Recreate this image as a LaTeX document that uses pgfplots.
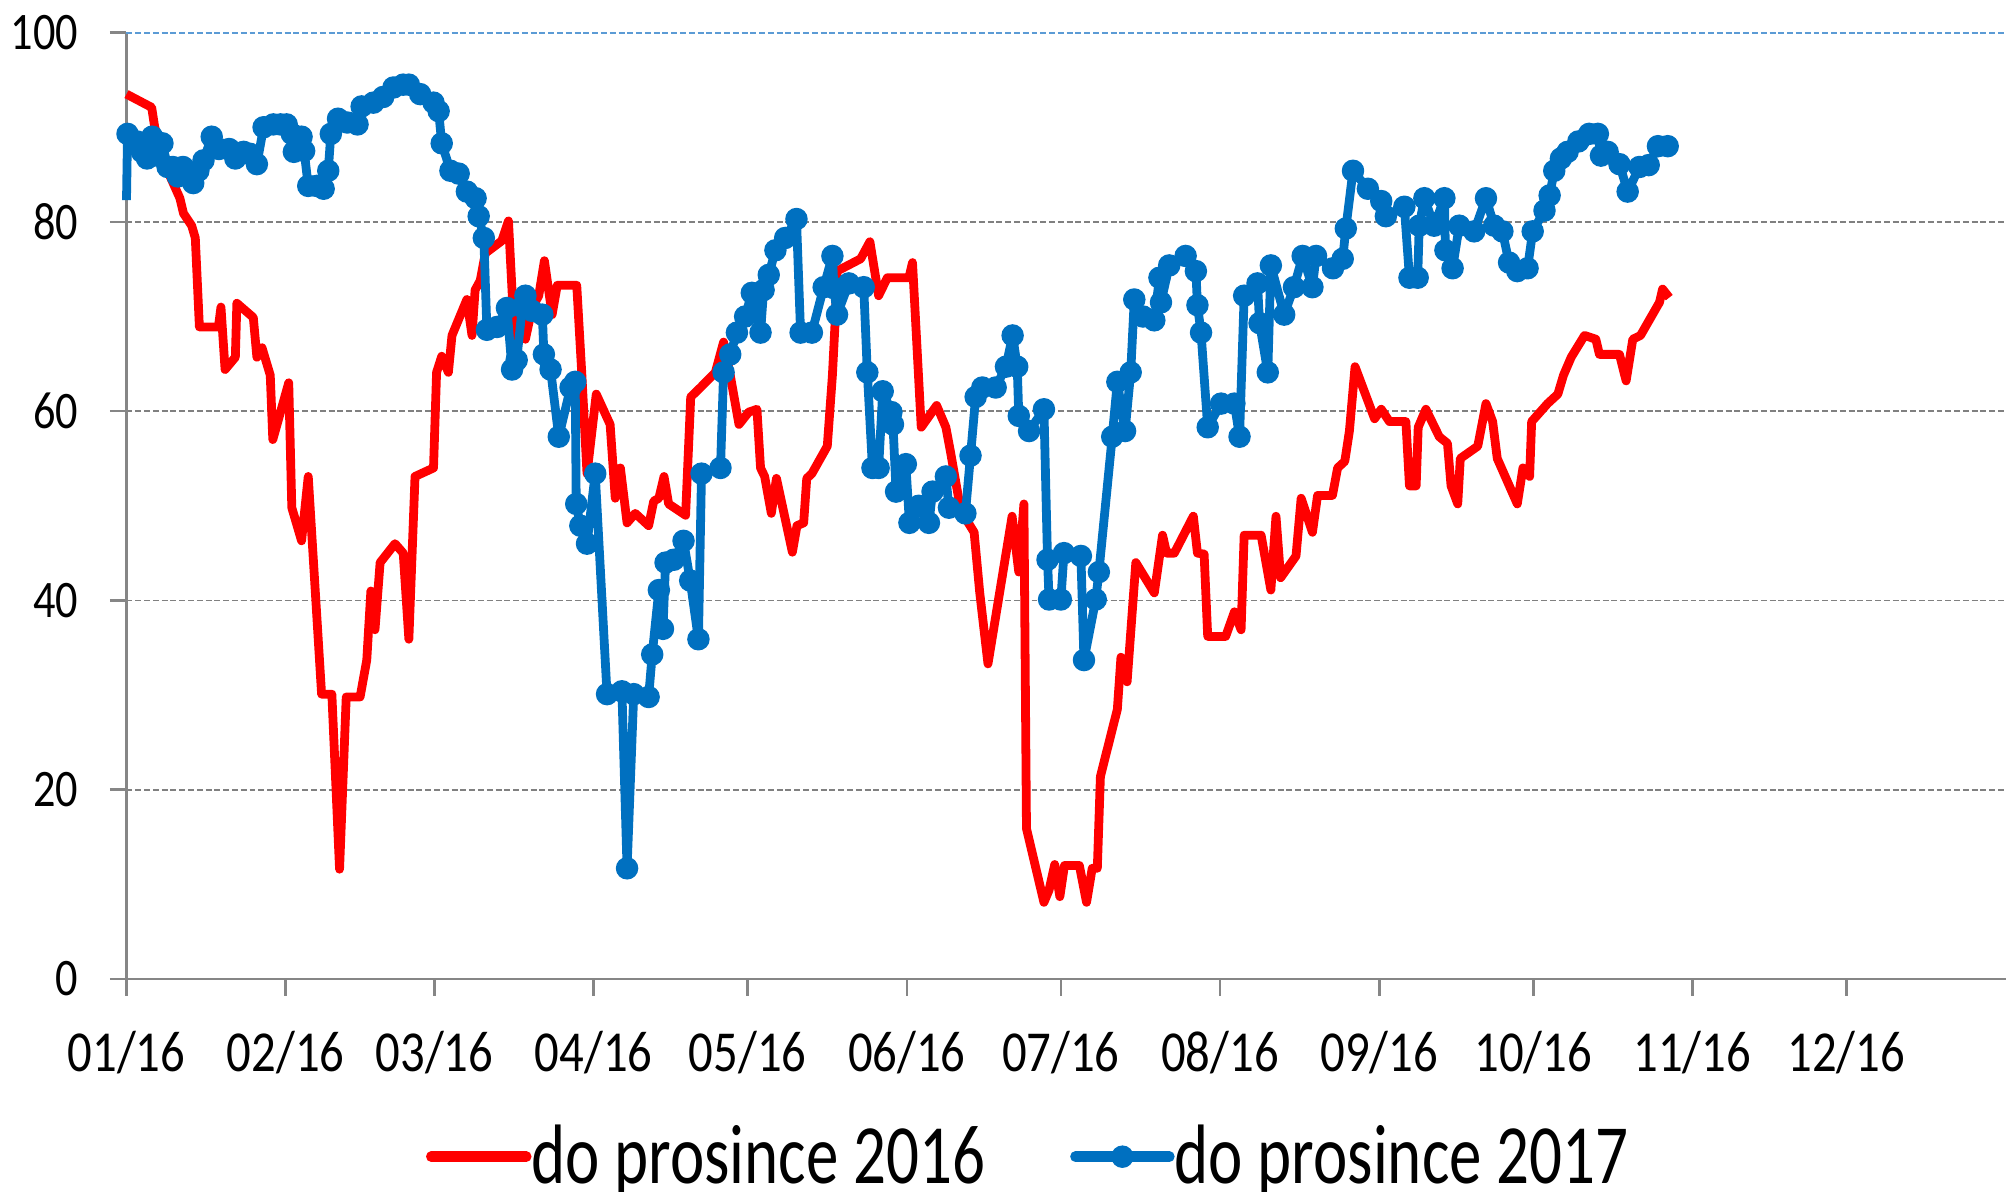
\documentclass[border=0pt]{standalone}
\usepackage{fontspec}
\usepackage{pgfplots}
\pgfplotsset{compat=1.18}
\setmainfont{Carlito}
\newfontfamily\tickfont[FakeStretch=0.84]{Carlito}
\newfontfamily\legfont[FakeStretch=0.77]{Carlito}
\definecolor{redC}{RGB}{255,0,0}
\definecolor{blueC}{RGB}{0,112,192}
\definecolor{axgray}{RGB}{134,134,134}
\definecolor{gridgray}{RGB}{128,128,128}
\definecolor{toplineC}{RGB}{91,155,213}

% legend pictograms
\pgfplotsset{
  redleg/.style={legend image code/.code={%
    \draw[##1, line width=3pt, line cap=round] (0cm,0cm) -- (0.95cm,0cm);}},
  blueleg/.style={legend image code/.code={%
    \draw[##1, line width=3pt, line cap=round, mark repeat=2, mark phase=2, mark size=3pt]
      plot coordinates {(0cm,0cm) (0.47cm,0cm) (0.94cm,0cm)};}},
}

\begin{document}
\begin{tikzpicture}
\useasboundingbox (-1.265cm,-2.12cm) rectangle (18.795cm,9.79cm);
\begin{axis}[
  scale only axis,
  width=18.79cm, height=9.464cm,
  xmin=0, xmax=366, ymin=0, ymax=100,
  clip=false,
  axis lines=left,
  axis line style={-, axgray, line width=0.75pt},
  tick style={axgray, line width=0.75pt},
  tick align=outside,
  major tick length=0.165cm,
  xtick={0,31,60,91,121,152,182,213,244,274,305,335},
  xticklabels={01/16,02/16,03/16,04/16,05/16,06/16,07/16,08/16,09/16,10/16,11/16,12/16},
  ytick={0,20,40,60,80},
  extra y ticks={100},
  extra y tick style={major grid style={toplineC, line width=0.6pt, dash pattern=on 1.7pt off 0.8pt}},
  ymajorgrids=true,
  major grid style={gridgray, line width=0.45pt, dash pattern=on 1.7pt off 0.8pt},
  /pgf/number format/assume math mode=true,
  yticklabel style={font=\tickfont\fontsize{15}{15}\selectfont, inner sep=0pt, anchor=east, xshift=-0.31cm},
  xticklabel style={font=\tickfont\fontsize{16.5}{16.5}\selectfont, inner sep=0pt, anchor=north, yshift=-0.35cm},
  legend columns=2,
  legend style={
    at={(axis description cs:0.1594,-0.154)}, anchor=north west,
    draw=none, fill=none, inner sep=0pt, outer sep=0pt,
    font=\legfont\fontsize{24}{24}\selectfont,
    nodes={inner sep=0pt},
    /tikz/every odd column/.append style={column sep=0cm},
    /tikz/every even column/.append style={column sep=0.85cm},
  },
]

% 2016 series
\addplot[redC, line width=2.5pt, line join=round, redleg]
coordinates {
(0,93.5) (4.9,92.1) (5.5,90) (8.5,84.8) (10.4,82.5) (11.1,80.9) (12.7,79.6) (13.4,78.3)
(14.2,68.9) (17.9,68.9) (18.4,71) (19.2,64.4) (21.2,65.7) (21.5,71.4) (24.7,69.9) (25.4,65.7)
(26.4,66.7) (28,63.8) (28.5,57) (31.6,63) (32.2,49.8) (34.1,46.3) (35.4,53.1) (38,30.1)
(40,30.1) (41.5,11.6) (42.8,29.8) (45.5,29.8) (46.8,33.7) (47.6,41) (48.4,36.9) (49.4,44)
(52.3,46) (53.9,45) (55,35.9) (56.2,53.1) (59.8,54) (60.4,64.1) (61.4,65.8) (62.7,64.1)
(63.4,68) (66.3,71.8) (67.3,68) (67.9,72.8) (68.9,73.8) (69.9,76.7) (73.1,78) (74.4,80.1)
(75.7,66.3) (76.4,70.9) (77.7,67.6) (79,70.9) (80.3,72.2) (81.4,75.9) (82.9,70.2) (83.9,73.3)
(87.7,73.3) (88.7,63.8) (89.7,53.4) (91.5,61.8) (94.2,58.6) (95.2,50.8) (96.2,54) (97.5,48.2)
(99.1,49.2) (101.7,47.9) (102.7,50.5) (103.7,50.8) (104.7,53.1) (105.6,50.2) (108.9,49)
(109.9,61.5) (111.8,62.5) (114.7,64.1) (116.3,67.3) (117.6,63.8) (119.3,58.6) (121.2,59.9)
(122.8,60.2) (123.5,54) (124.3,53.1) (125.6,49.2) (126.6,52.9) (129.7,45.1) (130.6,47.9)
(131.9,48.2) (132.5,52.9) (133.5,53.4) (136.5,56.3) (137.5,63.8) (138.1,70.2) (138.4,74.8)
(143,76.1) (144.8,77.9) (146.5,72.2) (148.2,74.1) (152.4,74.1) (153.1,75.7) (154.8,58.3)
(157.8,60.6) (159.6,58.3) (160.5,55.7) (162.5,49.5) (165.1,47.2) (166.2,40.8) (167.8,33.3)
(172.5,48.9) (173.8,43) (174.8,50.2) (175.3,15.9) (178.7,8.1) (179.7,9.4) (180.8,12.1)
(181.8,8.7) (182.7,12) (185.6,12) (187,8.1) (188.1,11.7) (189.1,11.7) (189.7,21.4)
(193,28.5) (193.7,34) (194.9,31.4) (196.6,44) (200.2,40.8) (201.8,46.9) (202.6,45) (204.1,45)
(207.8,48.9) (208.6,45) (209.9,44.9) (210.6,36.2) (214.1,36.2) (215.8,38.8) (217.1,36.9)
(217.7,46.9) (221,46.9) (222.9,41.1) (223.9,48.9) (224.8,42.4) (227.8,44.7) (228.8,50.8)
(231,47.2) (232,51.1) (234.9,51.1) (235.9,54) (237.3,54.7) (238.2,57.9) (239.3,64.7)
(243.1,59.2) (244.4,60.2) (246,58.9) (249.2,58.9) (249.9,52.1) (251.2,52.1) (251.6,58.3)
(253.1,60.2) (255.7,57.3) (257.3,56.6) (258,52.1) (259.3,50.2) (259.8,55) (263.2,56.3)
(264.8,60.8) (266.1,58.9) (267,55) (270.9,50.2) (272,54) (273.3,53.1) (273.7,58.9)
(276.8,60.8) (278.8,61.8) (279.9,63.8) (281.4,65.7) (284,68) (286.2,67.6) (286.9,66)
(290.8,66) (292.1,63.2) (293.4,67.6) (294.9,68) (298.6,71.5) (299.2,72.9) (300.5,72)
};
\addlegendentry{do prosince 2016}

% 2017 series (the opening value carries no marker)
\addplot[blueC, line width=2.5pt, line join=round,
  mark=*, mark size=3pt, mark repeat=1, mark phase=2,
  mark options={solid, fill=blueC, draw=blueC, line width=0.4pt},
  blueleg]
coordinates {
(0,82.3) (0.2,89.3) (2,88.5) (3,87.4) (4,86.7) (5,89) (6,87) (7,88.3) (8,85.8) (9,85.8) (10,84.8)
(11,85.8) (12,85) (13,84.1) (14,85.4) (15,86.5) (16.6,89) (18,87.7) (20,87.7) (21.2,86.7)
(22.8,87.4) (24,87.2) (25.4,86.1) (26.7,90) (28.6,90.3) (30,90.3) (31.2,90.3) (32.2,89.3)
(32.6,87.4) (34.1,89) (34.6,87.5) (35.4,83.8) (37,83.8) (38.4,83.5) (39.3,85.4) (39.8,89.3)
(41.2,90.9) (43,90.5) (45,90.3) (45.8,92.2) (48.1,92.6) (50,93.2) (52,94.2) (53.9,94.5)
(55,94.5) (57.2,93.5) (59.8,92.6) (60.8,91.7) (61.4,88.3) (63.1,85.4) (64.7,85.1) (66.3,83.2)
(68,82.5) (68.6,80.6) (69.6,78.3) (70.2,68.6) (72.2,68.9) (74.1,70.9) (75.1,64.4) (76,65.4)
(77.1,71) (77.7,72.2) (79,70.6) (81,70.2) (81.3,66) (82.6,64.4) (84.2,57.3) (86.5,62.5)
(87.4,63.1) (87.6,50.2) (88.4,47.9) (89.7,46) (91.3,53.4) (93.6,30.1) (96.5,30.4) (97.5,11.7)
(98.8,30.1) (101.7,29.8) (102.4,34.3) (103.7,41.1) (104.5,37) (105,44) (106.6,44.3)
(108.5,46.3) (109.8,42.1) (111.4,35.9) (112,53.4) (115.7,54) (116.3,64.1) (117.6,66)
(118.9,68.3) (120.5,70) (121.8,72.5) (123.5,68.3) (124.1,72.8) (125.1,74.4) (126.4,77)
(128.3,78.3) (130.5,80.3) (131.3,68.3) (133.5,68.3) (135.8,73.1) (137.5,76.4) (137.8,73)
(138.4,70.2) (140.7,73.5) (143.6,73.1) (144.3,64.1) (145.3,54) (146.5,54) (147.3,62.1)
(149,59.9) (149.3,58.6) (149.9,51.5) (151.8,54.4) (152.5,48.2) (154.3,50) (156.3,48.2)
(157,51.5) (159.6,53.1) (160.2,49.8) (163.4,49.2) (164.4,55.3) (165.4,61.5) (166.7,62.5)
(169.3,62.5) (171.3,64.7) (172.6,68) (173.5,64.7) (173.8,59.5) (175.8,57.9) (178.7,60.2)
(179.4,44.3) (179.7,40.1) (182,40.1) (182.6,45) (185.9,44.7) (186.5,33.7) (188.8,40.1)
(189.4,43) (192,57.3) (193,63.1) (194.5,57.9) (195.6,64.1) (196.3,71.8) (198,70) (200.2,69.6)
(201.2,74.1) (201.5,71.5) (203.1,75.4) (206.3,76.4) (208.3,74.8) (208.6,71.2) (209.3,68.3)
(210.6,58.3) (213.2,60.8) (215.8,60.8) (216.8,57.3) (217.7,72.2) (220.3,73.5) (220.7,69.3)
(222.3,64.1) (222.9,75.4) (225.5,70.2) (227.4,73.1) (229.1,76.4) (231,73.1) (231.7,76.4)
(235,75.1) (236.9,76.1) (237.5,79.3) (238.9,85.4) (241.8,83.5) (244.4,82.2) (245.3,80.6)
(248.9,81.6) (249.9,74.1) (251.5,74.1) (251.8,79.6) (252.8,82.5) (254.7,79.6) (256.7,82.5)
(256.9,77) (258.3,75.1) (259.6,79.6) (262.5,79) (264.8,82.5) (266.4,79.6) (268,79)
(269.3,75.7) (270.9,74.8) (272.9,75.1) (273.9,79) (276.2,81.2) (277.2,82.8) (278.1,85.4)
(279.4,86.7) (280.7,87.4) (282.8,88.5) (284.9,89.3) (286.6,89.3) (287.2,87) (288.5,87.4)
(290.8,86.1) (292.4,83.2) (294.7,85.8) (296.5,86) (298.3,88) (300.2,88)
};
\addlegendentry{do prosince 2017}
\end{axis}
\end{tikzpicture}
\end{document}
